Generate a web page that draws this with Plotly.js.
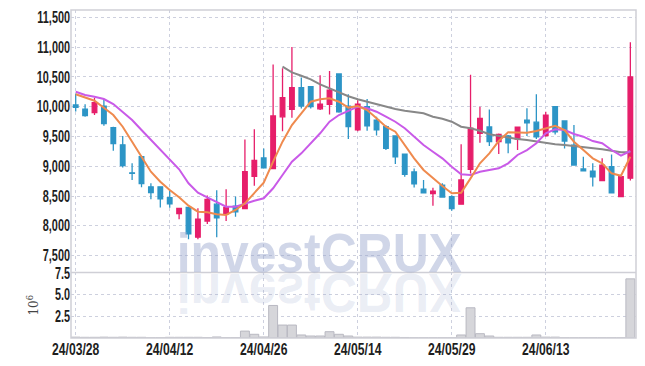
<!DOCTYPE html>
<html><head><meta charset="utf-8">
<script src="https://cdn.plot.ly/plotly-3.0.1.min.js"></script>
<style>html,body{margin:0;padding:0;background:#fff}#chart{width:645px;height:366px}</style>
</head><body><div id="chart"></div>
<script>
const dates = ['24/03/28','24/03/29','24/04/01','24/04/02','24/04/03','24/04/04','24/04/05','24/04/08','24/04/09','24/04/11',
'24/04/12','24/04/15','24/04/16','24/04/17','24/04/18','24/04/19','24/04/22','24/04/23','24/04/24','24/04/25',
'24/04/26','24/04/29','24/04/30','24/05/02','24/05/03','24/05/07','24/05/08','24/05/09','24/05/10','24/05/13',
'24/05/14','24/05/16','24/05/17','24/05/20','24/05/21','24/05/22','24/05/23','24/05/24','24/05/27','24/05/28',
'24/05/29','24/05/30','24/05/31','24/06/03','24/06/04','24/06/05','24/06/07','24/06/10','24/06/11','24/06/12',
'24/06/13','24/06/14','24/06/17','24/06/18','24/06/19','24/06/20','24/06/21','24/06/24','24/06/25','24/06/26'];
const openP = [10030,9960,9900,10010,9650,9360,8890,9160,8655,8655,8475,8205,8310,7810,8080,8365,8200,8330,8290,8830,
9140,8960,9830,9955,10320,10335,9965,10040,10550,10010,9610,10000,9775,9665,9510,9205,8905,8615,8540,8685,
8490,8365,8950,9555,9660,9415,9510,9455,9775,9740,9515,10000,9760,9355,8955,8920,8760,8995,8490,8800];
const highP = [10220,10040,10150,10130,9665,9510,9050,9175,8715,8660,8600,8300,8320,8295,8510,8600,8615,8495,9450,9620,
9300,10710,10645,11000,10490,10340,10530,10600,10550,10210,10110,10130,9830,9690,9510,9210,8965,8770,8640,8715,
8515,9370,10535,10000,9955,9550,9525,9660,9975,10210,9915,10000,9760,9695,9160,9050,9135,9200,8830,11080];
const lowP = [9920,9830,9860,9680,9260,8980,8770,8650,8445,8310,8305,8110,7775,7775,8030,7810,8080,8155,8280,8675,
8965,8950,9590,9815,9970,9970,9945,9870,9900,9460,9590,9595,9515,9275,9040,8825,8645,8555,8340,8475,
8255,8360,8880,9395,9340,9205,9220,9275,9510,9460,9495,9535,9300,9010,8925,8660,8750,8555,8480,8760];
const closeP = [9990,9850,10070,9715,9380,9010,8880,8710,8560,8455,8370,8295,7865,8115,8445,8135,8310,8235,8910,9100,
8975,9845,10150,10320,10010,10000,10045,10280,9915,9665,10045,9680,9610,9300,9160,8865,8705,8555,8585,8485,
8290,8770,9640,9805,9415,9535,9395,9655,9730,9495,9860,9580,9425,9020,8925,8825,9020,8555,8825,10500];
const ma5 = [10208,10151,10101,9983,9861,9664,9424,9161,8909,8741,8602,8480,8339,8238,8230,8194,8183,8267,8379,8547,
8725,9077,9413,9693,9889,10084,10124,10141,10084,9985,10012,9945,9805,9664,9580,9357,9134,8938,8798,8669,
8547,8557,8798,9050,9218,9424,9570,9570,9564,9592,9638,9681,9609,9413,9273,9134,9050,8882,8842,9161];
const ma10 = [10252,10196,10168,10129,10045,9916,9777,9609,9441,9273,9106,8950,8715,8557,8477,8406,8322,8322,8379,8423,
8463,8631,8854,9077,9218,9386,9554,9748,9861,9930,10000,9973,9916,9832,9748,9638,9497,9357,9245,9134,
8993,8866,8854,8909,8938,8966,9050,9190,9273,9386,9554,9621,9609,9542,9497,9424,9386,9273,9178,9257];
const maLong = [null,null,null,null,null,null,null,null,null,null,null,null,null,null,null,null,null,null,null,null,
null,null,10671,10577,10520,10460,10376,10309,10242,10176,10124,10084,10045,10000,9961,9933,9906,9889,9832,9799,
9748,9664,9638,9597,9537,9508,9480,9458,9441,9413,9386,9369,9357,9341,9324,9302,9285,9262,9235,9235];
const volumeM = [0.1,0.08,0.08,0.1,0.08,0.1,0.08,0.08,0.03,0.03,0.08,0.08,0.08,0.08,0.05,0.12,0.04,0.04,0.8,0.43,
0.12,3.77,1.5,1.5,0.35,0.23,0.23,0.73,0.43,0.23,0.1,0.1,0.1,0.08,0.08,0.06,0.03,0.03,0.03,0.03,
0.03,0.35,3.5,0.5,0.23,0.08,0.08,0.08,0.08,0.35,0.1,0.1,0.03,0.03,0.03,0.03,0.03,0.03,0.03,6.85];
const xTickLabels = ['24/03/28','24/04/12','24/04/26','24/05/14','24/05/29','24/06/13'];
const priceTicks = [7500,8000,8500,9000,9500,10000,10500,11000,11500];
const volTicks = [2.5,5.0,7.5];

const UP = '#e61e6a', DOWN = '#2d95c6';
const tickFont = {family:'"Liberation Sans",Arial,sans-serif', size:16, color:'#1e1e1e', weight:700};
const gridC = '#cdd0de';

const traces = [
  {type:'candlestick', x:dates, open:openP, high:highP, low:lowP, close:closeP, xaxis:'x', yaxis:'y',
   increasing:{line:{color:UP,width:1.3}, fillcolor:UP}, decreasing:{line:{color:DOWN,width:1.3}, fillcolor:DOWN},
   whiskerwidth:0, showlegend:false, hoverinfo:'skip'},
  {type:'scatter', mode:'lines', x:dates, y:maLong, line:{color:'#888888', width:2}, yaxis:'y', showlegend:false, hoverinfo:'skip'},
  {type:'scatter', mode:'lines', x:dates, y:ma10, line:{color:'#c95ae8', width:2}, yaxis:'y', showlegend:false, hoverinfo:'skip'},
  {type:'scatter', mode:'lines', x:dates, y:ma5, line:{color:'#ef8a4e', width:2}, yaxis:'y', showlegend:false, hoverinfo:'skip'},
  {type:'bar', x:dates, y:volumeM, xaxis:'x', yaxis:'y2', marker:{color:'#d6d6da', line:{color:'#b9b9c2', width:1}},
   width:0.95, showlegend:false, hoverinfo:'skip'}
];

const wmFont = {family:'"Liberation Sans",Arial,sans-serif', size:56, color:'rgba(150,165,205,0.45)', weight:700};
const layout = {
  width:645, height:366,
  margin:{l:71, r:9, t:10, b:28},
  paper_bgcolor:'#fff', plot_bgcolor:'#fff',
  showlegend:false,
  xaxis:{type:'category', range:[-0.5,59.6], anchor:'y2', rangeslider:{visible:false},
    tickmode:'array', tickvals:xTickLabels, ticktext:xTickLabels, tickfont:tickFont,
    showgrid:true, gridcolor:gridC, griddash:'dot', gridwidth:1, ticks:'', showline:false, zeroline:false},
  yaxis:{domain:[0.203,1], range:[7236,11623], anchor:'x', tickmode:'array', tickvals:priceTicks, tickformat:',d',
    tickfont:tickFont, showgrid:true, gridcolor:gridC, griddash:'dot', ticks:'', zeroline:false, showline:false},
  yaxis2:{domain:[0,0.2], range:[0,7.6], anchor:'x', tickmode:'array', tickvals:volTicks, tickformat:'.1f',
    tickfont:tickFont, showgrid:true, gridcolor:gridC, griddash:'dot', ticks:'', zeroline:false, showline:false,
    title:{text:'10<sup>6</sup>', font:{family:'"DejaVu Serif",serif', size:12, color:'#444'}, standoff:6}},
  shapes:[
    {type:'rect', xref:'paper', yref:'paper', x0:0, x1:1, y0:0, y1:1, line:{color:'#cfcfd6', width:1.5}, layer:'above'},
    {type:'line', xref:'paper', yref:'paper', x0:0, x1:1, y0:0.2, y1:0.2, line:{color:'#cfcfd6', width:1.5}, layer:'above'}
  ],
  annotations:[
    {text:'investCRUX', xref:'paper', yref:'paper', x:0.4407, y:0.262, xanchor:'center', yanchor:'middle', showarrow:false, font:wmFont},
    {text:'investCRUX', xref:'paper', yref:'paper', x:0.4407, y:0.135, xanchor:'center', yanchor:'middle', showarrow:false,
     font:Object.assign({}, wmFont, {color:'rgba(150,165,205,0.2)'})}
  ]
};

function squeeze(el, sx, sy, mode) {
  const bb = el.getBBox();
  const px = mode === 'right' ? bb.x + bb.width : bb.x + bb.width / 2;
  const py = bb.y + bb.height / 2;
  const orig = el.getAttribute('transform') || '';
  el.setAttribute('transform', orig + ' translate(' + px + ',' + py + ') scale(' + sx + ',' + sy + ') translate(' + (-px) + ',' + (-py) + ')');
}

Plotly.newPlot('chart', traces, layout, {staticPlot:true, displayModeBar:false}).then(function(gd){
  gd.querySelectorAll('.ytick text, .y2tick text').forEach(function(t){ squeeze(t, 0.68, 1, 'right'); });
  gd.querySelectorAll('.xtick text').forEach(function(t){ squeeze(t, 0.76, 1, 'center'); });
  const anns = gd.querySelectorAll('.annotation-text');
  if (anns.length > 1) {
    squeeze(anns[0], 0.89, 1, 'center');
    squeeze(anns[1], 0.89, -1, 'center');
  }
});
</script>
</body></html>
